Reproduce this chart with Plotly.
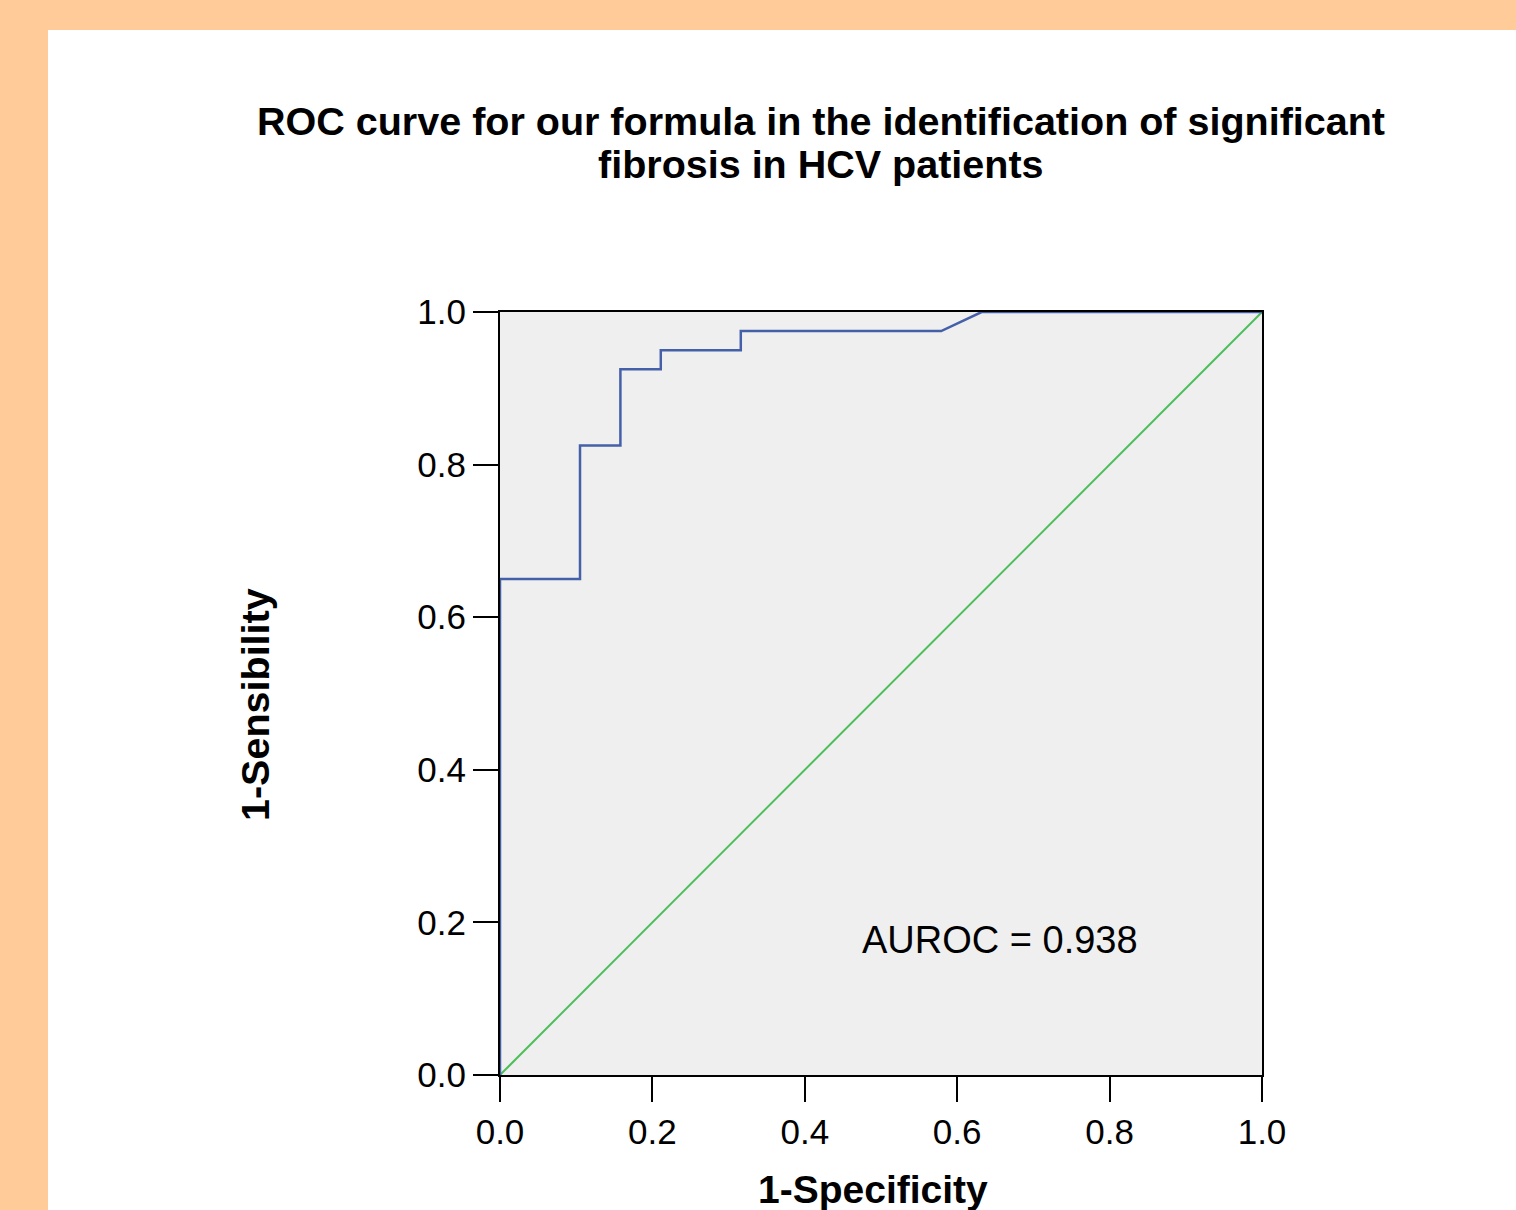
import plotly.graph_objects as go

# ROC curve data (1-Specificity, Sensitivity)
roc_x = [0.0, 0.0, 0.105, 0.105, 0.158, 0.158, 0.211, 0.211, 0.316, 0.316, 0.579, 0.632, 1.0]
roc_y = [0.0, 0.65, 0.65, 0.825, 0.825, 0.925, 0.925, 0.95, 0.95, 0.975, 0.975, 1.0, 1.0]
ref_x = [0.0, 1.0]
ref_y = [0.0, 1.0]
tick_vals = [0.0, 0.2, 0.4, 0.6, 0.8, 1.0]
tick_text = ["0.0", "0.2", "0.4", "0.6", "0.8", "1.0"]
auroc_label = "AUROC = 0.938"
title_lines = ["ROC curve for our formula in the identification of significant",
               "fibrosis in HCV patients"]

W, H = 1516, 1210
L, R, T, B = 500, 1516 - 1262, 312, 1210 - 1075
pw, ph = W - L - R, H - T - B

def px(x):
    return (x - L) / pw

def py(y):
    return (H - B - y) / ph

FONT = "Liberation Sans, Arial, sans-serif"
ORANGE = "#FFCC99"

fig = go.Figure()
fig.add_trace(go.Scatter(x=ref_x, y=ref_y, mode="lines",
                         line=dict(color="#4DBE5C", width=2), showlegend=False))
fig.add_trace(go.Scatter(x=roc_x, y=roc_y, mode="lines",
                         line=dict(color="#4460A8", width=2.5), showlegend=False))

axis_common = dict(range=[0, 1], tickvals=tick_vals, ticktext=tick_text,
                   showgrid=False, zeroline=False, showline=True, linecolor="black",
                   linewidth=2, mirror=True, ticks="outside", ticklen=25, tickwidth=2,
                   tickcolor="black", tickfont=dict(family=FONT, size=35, color="black"))

annotations = [
    dict(text="<b>%s</b>" % title_lines[0], xref="paper", yref="paper", x=px(821), y=py(121),
         xanchor="center", yanchor="middle", showarrow=False,
         font=dict(family=FONT, size=39.5, color="black")),
    dict(text="<b>%s</b>" % title_lines[1], xref="paper", yref="paper", x=px(821), y=py(164),
         xanchor="center", yanchor="middle", showarrow=False,
         font=dict(family=FONT, size=39.5, color="black")),
    dict(text="<b>1-Specificity</b>", xref="paper", yref="paper", x=px(873), y=py(1189),
         xanchor="center", yanchor="middle", showarrow=False,
         font=dict(family=FONT, size=39, color="black")),
    dict(text="<b>1-Sensibility</b>", xref="paper", yref="paper", x=px(255), y=py(705),
         xanchor="center", yanchor="middle", textangle=-90, showarrow=False,
         font=dict(family=FONT, size=39.5, color="black")),
    dict(text=auroc_label, xref="x", yref="y", x=0.656, y=0.177,
         xanchor="center", yanchor="middle", showarrow=False,
         font=dict(family=FONT, size=38, color="black")),
]

fig.update_layout(
    width=W, height=H,
    margin=dict(l=L, r=R, t=T, b=B, pad=0),
    paper_bgcolor="white", plot_bgcolor="#EFEFEF",
    xaxis=dict(**axis_common),
    yaxis=dict(**axis_common),
    shapes=[
        dict(type="rect", xref="paper", yref="paper", x0=px(0), x1=px(48), y0=py(H), y1=py(0),
             fillcolor=ORANGE, line=dict(width=0), layer="below"),
        dict(type="rect", xref="paper", yref="paper", x0=px(0), x1=px(W), y0=py(30), y1=py(0),
             fillcolor=ORANGE, line=dict(width=0), layer="below"),
    ],
    annotations=annotations,
)

fig.write_html("out.html", config={"displayModeBar": False},
               post_script="document.body.style.margin='0';document.body.style.padding='0';"
                           "document.body.style.overflow='hidden';")
